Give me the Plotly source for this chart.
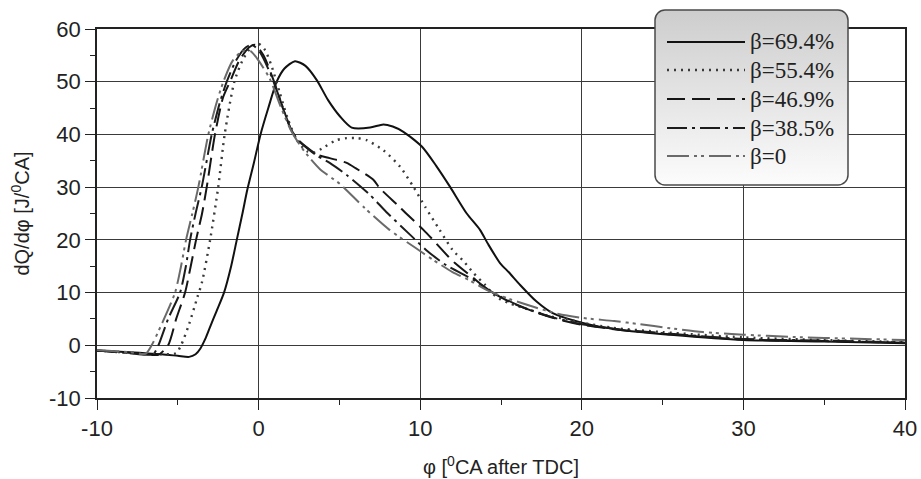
import base64
import plotly.graph_objects as go

# ---------------- data ----------------
labels = ["β=69.4%", "β=55.4%", "β=46.9%", "β=38.5%", "β=0"]

phi_694 = [-10, -8, -6, -5, -4.3, -3.9, -3.6, -3.3, -3.0, -2.6, -2.14, -1.7, -1.35, -1.0, -0.7, -0.3, 0.12, 0.6,
           1.12, 1.6, 2.25, 2.9, 3.6, 4.3, 5.04, 5.76, 6.9, 7.72, 8.3, 8.96, 10.1, 11.0, 11.84, 12.88, 13.7,
           14.2, 14.94, 15.5, 16.2, 17.2, 18.2, 20, 22.4, 25.5, 30, 35, 40]
q_694 = [-1.0, -1.3, -1.7, -2.0, -2.2, -1.7, -0.6, 1.2, 3.5, 6.5, 10, 15, 20, 25, 29.5, 34.5, 40, 45,
         50, 52.5, 53.9, 53.0, 50.3, 46.5, 43.4, 41.3, 41.3, 41.9, 41.5, 40.5, 37.7, 34.0, 30.1, 25.0, 21.9,
         19.2, 15.6, 13.8, 11.4, 8.3, 6.1, 4.3, 2.9, 2.0, 1.0, 0.7, 0.4]

phi_554 = [-10, -8, -6, -5.1, -4.8, -4.3, -3.8, -3.5, -3.0, -2.5, -2.1, -1.5, -1.0, -0.4, 0.0, 0.4, 0.8,
           1.3, 1.8, 2.4, 3.0, 3.5, 3.9, 4.8, 5.45, 6.1, 6.69, 7.72, 8.75, 9.57, 10.3, 11.2, 12.0, 12.7,
           13.3, 14.0, 14.7, 15.5, 16.8, 18, 19, 20, 22, 25, 30, 35, 40]
q_554 = [-1.0, -1.4, -1.7, -1.5, 0, 4, 9, 12, 20, 30, 40, 50, 54, 56.8, 57.2, 56.0, 53.0,
         48.0, 43.0, 38.8, 36.8, 36.6, 37.3, 38.9, 39.3, 39.3, 38.9, 37.0, 33.9, 30.1, 26.3, 21.9, 18.1, 15.9,
         13.7, 11.5, 9.2, 8.0, 6.7, 5.5, 5.0, 4.3, 3.3, 2.5, 1.5, 1.0, 0.6]

phi_469 = [-10, -8, -7, -6.2, -5.6, -5.1, -4.55, -4.2, -3.87, -3.5, -3.21, -2.7, -2.2, -1.77, -1.2, -0.6,
           -0.2, 0.3, 0.9, 1.5, 2.0, 2.45, 3.0, 3.6, 4.4, 5.45, 6.0, 7.1, 7.5, 8.6, 9.1, 10.2, 10.7, 11.75,
           12.15, 13.27, 14.3, 15.5, 16.5, 18.2, 20, 22.4, 25, 30, 35, 40]
q_469 = [-1.0, -1.4, -1.7, -1.8, 0, 5, 10, 15, 20, 25, 30, 40, 47, 50, 54, 56.5,
         57.0, 55.0, 50.5, 45.0, 41.0, 39.0, 37.5, 36.2, 35.5, 34.6, 33.6, 31.4, 29.8, 26.6, 25.1, 21.9, 20.3, 16.8,
         15.6, 12.8, 10.3, 8.3, 7.0, 5.2, 3.9, 2.9, 2.2, 1.1, 0.8, 0.5]

phi_385 = [-10, -8, -7, -6.5, -6.2, -5.6, -4.86, -4.5, -4.24, -3.9, -3.52, -2.9, -2.4, -1.97, -1.4, -0.8,
           -0.4, 0.1, 0.8, 1.4, 2.0, 2.4, 3.0, 3.6, 4.4, 5.45, 6.9, 7.9, 9.4, 10.4, 11.6, 13.3, 14.5, 16.2,
           18.2, 20, 22.4, 25, 30, 35, 40]
q_385 = [-1.0, -1.5, -1.8, -1.6, 0, 5, 10, 15, 20, 25, 30, 40, 46, 50, 54, 56.5,
         57.0, 55.5, 51.0, 46.0, 41.0, 39.0, 37.4, 36.0, 34.6, 32.3, 28.5, 25.3, 20.9, 18.0, 15.2, 12.4, 10.0, 7.4,
         5.3, 4.0, 3.0, 2.3, 1.2, 0.9, 0.5]

phi_0 = [-10, -8, -7, -6.62, -6.0, -5.17, -4.8, -4.49, -4.1, -3.73, -3.11, -2.6, -2.18, -1.6, -1.0, -0.5,
         0.0, 0.7, 1.4, 2.0, 2.6, 3.2, 3.8, 4.5, 5.04, 6.58, 8.1, 9.7, 10.8, 12.0, 13.0, 14.1, 15.5, 17,
         18.5, 20, 22, 23.6, 25.3, 27.5, 30, 33, 35, 37.5, 40]
q_0 = [-0.9, -1.3, -1.6, 0, 4, 10, 15, 20, 25, 30, 40, 46, 50, 54, 55.8, 55.8,
       54.0, 50.5, 45.0, 40.8, 37.8, 35.4, 33.4, 31.8, 30.6, 26.0, 21.9, 18.5, 16.2, 13.9, 12.4, 10.5, 8.8, 7.3,
       6.0, 5.2, 4.6, 4.0, 3.3, 2.5, 2.0, 1.6, 1.4, 1.2, 1.0]

x_ticks = [-10, 0, 10, 20, 30, 40]
x_tick_text = ["-10", "0", "10", "20", "30", "40"]
y_ticks = [-10, 0, 10, 20, 30, 40, 50, 60]
y_tick_text = ["-10", "0", "10", "20", "30", "40", "50", "60"]

# ---------------- styles ----------------
series = [
    (phi_694, q_694, labels[0], "#111111", "solid", 2.0),
    (phi_554, q_554, labels[1], "#3a3a3a", "2px,5px", 2.4),
    (phi_469, q_469, labels[2], "#151515", "18px,7px", 2.0),
    (phi_385, q_385, labels[3], "#1c1c1c", "20px,5px,3px,5px", 2.0),
    (phi_0, q_0, labels[4], "#6a6a6a", "22px,5px,3px,4px,3px,5px", 2.0),
]

fig = go.Figure()
for xs, ys, name, color, dash, w in series:
    fig.add_trace(go.Scatter(
        x=xs, y=ys, name=name, mode="lines",
        line=dict(color=color, dash=dash, width=w, shape="spline", smoothing=0.7),
        showlegend=False,
    ))

# plot area in pixels
L, R, T, B = 97, 16, 29, 81
W, H = 921, 479
pw, ph = W - L - R, H - T - B


def px_x(px):
    return (px - L) / pw


def px_y(py):
    return (H - B - py) / ph


# legend box (rounded, gradient) as an SVG image
bx0, by0, bx1, by1 = 654, 9, 849, 186
bw, bh = bx1 - bx0, by1 - by0
svg = (
    f"<svg xmlns='http://www.w3.org/2000/svg' width='{bw}' height='{bh}' viewBox='0 0 {bw} {bh}'>"
    "<defs><linearGradient id='g' x1='0' y1='0' x2='0' y2='1'>"
    "<stop offset='0' stop-color='#cdcdcd'/><stop offset='1' stop-color='#fcfcfc'/>"
    "</linearGradient></defs>"
    f"<rect x='1' y='1' width='{bw-2}' height='{bh-2}' rx='10' ry='10' fill='url(#g)' "
    "stroke='#4a4a4a' stroke-width='1.5'/></svg>"
)
src = "data:image/svg+xml;base64," + base64.b64encode(svg.encode()).decode()
fig.add_layout_image(dict(
    source=src, xref="paper", yref="paper",
    x=px_x(bx0), y=px_y(by0), sizex=bw / pw, sizey=bh / ph,
    xanchor="left", yanchor="top", sizing="stretch", layer="above",
))

entry_y = [42, 70, 99, 128, 156]
for (xs, ys, name, color, dash, w), ey in zip(series, entry_y):
    fig.add_shape(type="line", xref="paper", yref="paper",
                  x0=px_x(667), x1=px_x(745), y0=px_y(ey), y1=px_y(ey),
                  line=dict(color=color, dash=dash, width=w), layer="above")
    fig.add_annotation(xref="paper", yref="paper", x=px_x(748), y=px_y(ey),
                       text=name, showarrow=False, xanchor="left", yanchor="middle",
                       font=dict(family="Liberation Serif, Times New Roman, serif", size=23, color="#222222"))

axis_common = dict(
    showgrid=True, gridcolor="#3a3a3a", gridwidth=1,
    showline=True, linecolor="#222222", linewidth=1.5, mirror=True,
    ticks="outside", ticklen=10, tickcolor="#222222", tickwidth=1,
    zeroline=False,
    tickfont=dict(family="Liberation Sans, Arial, sans-serif", size=22, color="#222222"),
    minor=dict(ticks="outside", ticklen=5, tickcolor="#222222", showgrid=False),
)

fig.update_layout(
    width=W, height=H,
    margin=dict(l=L, r=R, t=T, b=B, autoexpand=False),
    paper_bgcolor="white", plot_bgcolor="white",
    font=dict(family="Liberation Sans, Arial, sans-serif", color="#222222"),
    xaxis=dict(range=[-10, 40], tickvals=x_ticks, ticktext=x_tick_text, minor_dtick=5,
               title=dict(text="φ [<sup>0</sup>CA after TDC]", standoff=20,
                          font=dict(size=20, color="#222222")),
               **axis_common),
    yaxis=dict(range=[-10, 60], tickvals=y_ticks, ticktext=y_tick_text, minor_dtick=5,
               title=dict(text="dQ/dφ [J/<sup>0</sup>CA]", standoff=14,
                          font=dict(size=20, color="#222222")),
               **axis_common),
)

fig.write_html("out.html")
